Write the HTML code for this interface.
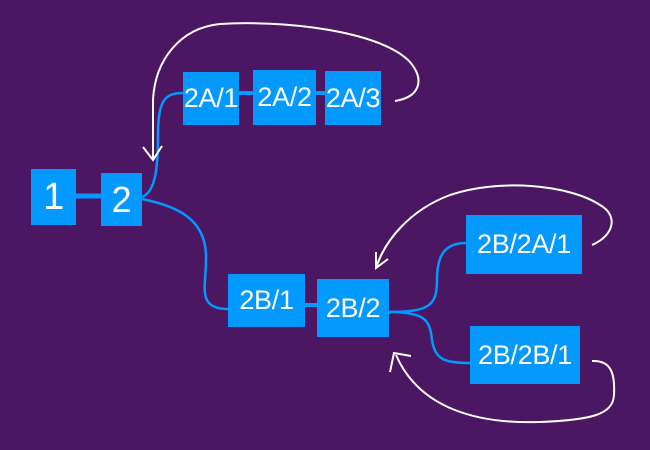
<!DOCTYPE html>
<html><head><style>
html,body{margin:0;padding:0;background:#4b1763;}
.b{position:absolute;background:#0399fe;color:#fff;font-family:"Liberation Sans",sans-serif;font-size:27px;display:flex;align-items:center;justify-content:center;white-space:nowrap;letter-spacing:-0.3px;}
</style></head><body>
<div style="position:relative;width:650px;height:450px;overflow:hidden;background:#4b1763">
<svg width="650" height="450" style="position:absolute;left:0;top:0">
<g stroke="#0399fe" fill="none" stroke-width="2.5">
<line x1="76" y1="196" x2="101" y2="196" stroke-width="5"/>
<line x1="239" y1="93" x2="253" y2="93" stroke-width="4"/>
<line x1="316" y1="93" x2="325" y2="93" stroke-width="4"/>
<line x1="305" y1="305" x2="317" y2="305" stroke-width="4"/>
<path d="M142,197 C155,192 158,170 158,135 C158,100 165,93 183,93"/>
<path d="M142,199 C170,205 205,215 206,255 C207,285 195,309 228,309"/>
<path d="M389,312 C430,312 437,305 437,280 C437,255 445,243 466,243"/>
<path d="M389,312 C425,312 430,320 432,340 C435,360 445,363 470,363"/>
</g>
<g stroke="#fff" fill="none" stroke-width="2">
<path d="M395,101 C420,97 425,80 410,62 C380,30 280,20 220,24 C180,28 155,60 153,100 L153,160"/>
<path d="M143,147 L153,160 L162,146"/>
<path d="M592,245 C615,235 618,215 600,205 C570,185 500,178 450,195 C410,210 385,240 376,268"/>
<path d="M376,252 L376,268 L388,259"/>
<path d="M592,361 C612,360 615,375 614,395 C613,415 590,420 540,422 C480,424 420,410 396,355"/>
<path d="M390,372 L394,353 L411,356"/>
</g>
</svg>
<div class="b" style="left:31px;top:169px;width:45px;height:56px;font-size:38px">1</div>
<div class="b" style="left:101px;top:173px;width:41px;height:53px;font-size:36px">2</div>
<div class="b" style="left:183px;top:72px;width:56px;height:53px">2A/1</div>
<div class="b" style="left:253px;top:70px;width:63px;height:55px">2A/2</div>
<div class="b" style="left:325px;top:71px;width:56px;height:54px">2A/3</div>
<div class="b" style="left:228px;top:274px;width:77px;height:53px">2B/1</div>
<div class="b" style="left:317px;top:279px;width:72px;height:58px">2B/2</div>
<div class="b" style="left:466px;top:215px;width:116px;height:59px">2B/2A/1</div>
<div class="b" style="left:470px;top:326px;width:110px;height:58px">2B/2B/1</div>
</div>
</body></html>
